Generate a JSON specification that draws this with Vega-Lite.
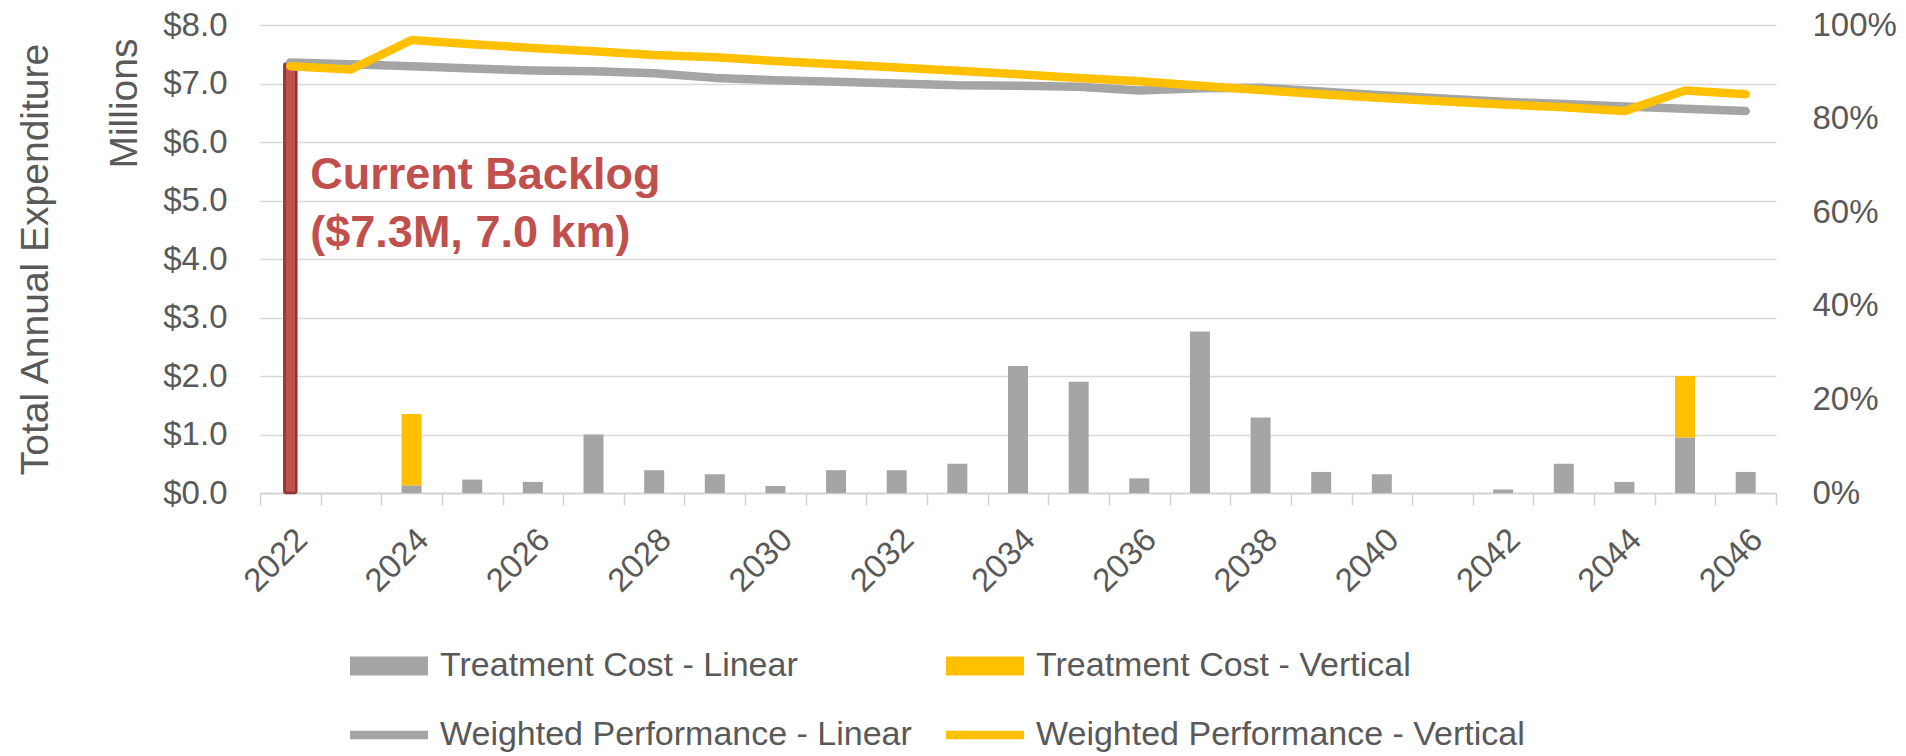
{
  "$schema": "https://vega.github.io/schema/vega-lite/v6.json",
  "width": 1516,
  "height": 468,
  "autosize": "none",
  "padding": {"left": 260, "top": 25, "right": 130, "bottom": 263},
  "background": "white",
  "config": {
    "font": "Liberation Sans",
    "view": {"stroke": null},
    "axis": {"labelColor": "#595959", "titleColor": "#595959", "titleFontWeight": "normal", "labelFont": "Liberation Sans", "titleFont": "Liberation Sans"}
  },
  "datasets": {
    "cost": [
      {"year": "2024", "series": "Treatment Cost - Linear", "cost": 0.13},
      {"year": "2024", "series": "Treatment Cost - Vertical", "cost": 1.22},
      {"year": "2025", "series": "Treatment Cost - Linear", "cost": 0.23},
      {"year": "2026", "series": "Treatment Cost - Linear", "cost": 0.19},
      {"year": "2027", "series": "Treatment Cost - Linear", "cost": 1.0},
      {"year": "2028", "series": "Treatment Cost - Linear", "cost": 0.39},
      {"year": "2029", "series": "Treatment Cost - Linear", "cost": 0.32},
      {"year": "2030", "series": "Treatment Cost - Linear", "cost": 0.12},
      {"year": "2031", "series": "Treatment Cost - Linear", "cost": 0.39},
      {"year": "2032", "series": "Treatment Cost - Linear", "cost": 0.39},
      {"year": "2033", "series": "Treatment Cost - Linear", "cost": 0.5},
      {"year": "2034", "series": "Treatment Cost - Linear", "cost": 2.17},
      {"year": "2035", "series": "Treatment Cost - Linear", "cost": 1.9},
      {"year": "2036", "series": "Treatment Cost - Linear", "cost": 0.25},
      {"year": "2037", "series": "Treatment Cost - Linear", "cost": 2.76},
      {"year": "2038", "series": "Treatment Cost - Linear", "cost": 1.29},
      {"year": "2039", "series": "Treatment Cost - Linear", "cost": 0.36},
      {"year": "2040", "series": "Treatment Cost - Linear", "cost": 0.32},
      {"year": "2042", "series": "Treatment Cost - Linear", "cost": 0.06},
      {"year": "2043", "series": "Treatment Cost - Linear", "cost": 0.5},
      {"year": "2044", "series": "Treatment Cost - Linear", "cost": 0.19},
      {"year": "2045", "series": "Treatment Cost - Linear", "cost": 0.95},
      {"year": "2045", "series": "Treatment Cost - Vertical", "cost": 1.05},
      {"year": "2046", "series": "Treatment Cost - Linear", "cost": 0.36}
    ],
    "backlog": [
      {"year": "2022", "amount": 7.34, "label": "Current Backlog\n($7.3M, 7.0 km)"}
    ],
    "perf": [
      {"year": "2022", "series": "Weighted Performance - Linear", "perf": 0.920},
      {"year": "2023", "series": "Weighted Performance - Linear", "perf": 0.916},
      {"year": "2024", "series": "Weighted Performance - Linear", "perf": 0.912},
      {"year": "2025", "series": "Weighted Performance - Linear", "perf": 0.907},
      {"year": "2026", "series": "Weighted Performance - Linear", "perf": 0.903},
      {"year": "2027", "series": "Weighted Performance - Linear", "perf": 0.901},
      {"year": "2028", "series": "Weighted Performance - Linear", "perf": 0.897},
      {"year": "2029", "series": "Weighted Performance - Linear", "perf": 0.887},
      {"year": "2030", "series": "Weighted Performance - Linear", "perf": 0.882},
      {"year": "2031", "series": "Weighted Performance - Linear", "perf": 0.879},
      {"year": "2032", "series": "Weighted Performance - Linear", "perf": 0.875},
      {"year": "2033", "series": "Weighted Performance - Linear", "perf": 0.871},
      {"year": "2034", "series": "Weighted Performance - Linear", "perf": 0.870},
      {"year": "2035", "series": "Weighted Performance - Linear", "perf": 0.868},
      {"year": "2036", "series": "Weighted Performance - Linear", "perf": 0.860},
      {"year": "2037", "series": "Weighted Performance - Linear", "perf": 0.865},
      {"year": "2038", "series": "Weighted Performance - Linear", "perf": 0.866},
      {"year": "2039", "series": "Weighted Performance - Linear", "perf": 0.858},
      {"year": "2040", "series": "Weighted Performance - Linear", "perf": 0.850},
      {"year": "2041", "series": "Weighted Performance - Linear", "perf": 0.843},
      {"year": "2042", "series": "Weighted Performance - Linear", "perf": 0.836},
      {"year": "2043", "series": "Weighted Performance - Linear", "perf": 0.831},
      {"year": "2044", "series": "Weighted Performance - Linear", "perf": 0.826},
      {"year": "2045", "series": "Weighted Performance - Linear", "perf": 0.821},
      {"year": "2046", "series": "Weighted Performance - Linear", "perf": 0.816},
      {"year": "2022", "series": "Weighted Performance - Vertical", "perf": 0.912},
      {"year": "2023", "series": "Weighted Performance - Vertical", "perf": 0.905},
      {"year": "2024", "series": "Weighted Performance - Vertical", "perf": 0.968},
      {"year": "2025", "series": "Weighted Performance - Vertical", "perf": 0.959},
      {"year": "2026", "series": "Weighted Performance - Vertical", "perf": 0.951},
      {"year": "2027", "series": "Weighted Performance - Vertical", "perf": 0.944},
      {"year": "2028", "series": "Weighted Performance - Vertical", "perf": 0.936},
      {"year": "2029", "series": "Weighted Performance - Vertical", "perf": 0.931},
      {"year": "2030", "series": "Weighted Performance - Vertical", "perf": 0.923},
      {"year": "2031", "series": "Weighted Performance - Vertical", "perf": 0.916},
      {"year": "2032", "series": "Weighted Performance - Vertical", "perf": 0.909},
      {"year": "2033", "series": "Weighted Performance - Vertical", "perf": 0.902},
      {"year": "2034", "series": "Weighted Performance - Vertical", "perf": 0.895},
      {"year": "2035", "series": "Weighted Performance - Vertical", "perf": 0.887},
      {"year": "2036", "series": "Weighted Performance - Vertical", "perf": 0.880},
      {"year": "2037", "series": "Weighted Performance - Vertical", "perf": 0.870},
      {"year": "2038", "series": "Weighted Performance - Vertical", "perf": 0.861},
      {"year": "2039", "series": "Weighted Performance - Vertical", "perf": 0.852},
      {"year": "2040", "series": "Weighted Performance - Vertical", "perf": 0.844},
      {"year": "2041", "series": "Weighted Performance - Vertical", "perf": 0.837},
      {"year": "2042", "series": "Weighted Performance - Vertical", "perf": 0.830},
      {"year": "2043", "series": "Weighted Performance - Vertical", "perf": 0.824},
      {"year": "2044", "series": "Weighted Performance - Vertical", "perf": 0.816},
      {"year": "2045", "series": "Weighted Performance - Vertical", "perf": 0.860},
      {"year": "2046", "series": "Weighted Performance - Vertical", "perf": 0.852}
    ]
  },
  "encoding": {
    "x": {
      "field": "year",
      "type": "nominal",
      "scale": {
        "domain": ["2022","2023","2024","2025","2026","2027","2028","2029","2030","2031","2032","2033","2034","2035","2036","2037","2038","2039","2040","2041","2042","2043","2044","2045","2046"],
        "paddingInner": 0,
        "paddingOuter": 0
      },
      "axis": {
        "title": null,
        "labelAngle": -45,
        "labelAlign": "right",
        "labelBaseline": "top",
        "labelFontSize": 33,
        "labelPadding": 18,
        "labelOverlap": false,
        "labelExpr": "toNumber(datum.value) % 2 === 0 ? datum.value : ''",
        "tickBand": "extent",
        "tickSize": 12,
        "tickColor": "#D0D0D0",
        "tickWidth": 1.5,
        "domainColor": "#D0D0D0",
        "domainWidth": 1.5,
        "grid": false
      }
    }
  },
  "layer": [
    {
      "data": {"name": "cost"},
      "mark": {"type": "bar", "size": 20},
      "encoding": {
        "y": {
          "field": "cost",
          "type": "quantitative",
          "stack": "zero",
          "scale": {"domain": [0, 8]},
          "axis": {
            "orient": "left",
            "title": "Total Annual Expenditure",
            "titleFontSize": 39,
            "titleX": -213,
            "titleY": 234,
            "titleAlign": "center",
            "titleBaseline": "alphabetic",
            "titleAngle": 270,
            "values": [0, 1, 2, 3, 4, 5, 6, 7, 8],
            "format": "$.1f",
            "labelFontSize": 33,
            "labelPadding": 33,
            "ticks": false,
            "tickSize": 0,
            "domain": false,
            "grid": true,
            "gridColor": "#D9D9D9",
            "gridWidth": 1.5
          }
        },
        "color": {
          "field": "series",
          "type": "nominal",
          "scale": {
            "domain": ["Treatment Cost - Linear", "Treatment Cost - Vertical", "Weighted Performance - Linear", "Weighted Performance - Vertical"],
            "range": ["#A5A5A5", "#FFC000", "#A5A5A5", "#FFC000"]
          },
          "legend": {
            "orient": "none",
            "legendX": 90,
            "legendY": 624,
            "columns": 2,
            "direction": "horizontal",
            "title": null,
            "padding": 0,
            "labelFontSize": 34,
            "labelColor": "#595959",
            "labelLimit": 0,
            "labelOffset": 56,
            "symbolSize": 1156,
            "symbolStrokeWidth": 0,
            "symbolOpacity": 1,
            "symbolType": "M-1,-0.56H3.59V0.56H-1Z",
            "rowPadding": 35,
            "columnPadding": 34,
            "encode": {
              "symbols": {
                "update": {
                  "shape": {"signal": "indexof(datum.value, 'Weighted') >= 0 ? 'M-1,-0.25H3.59V0.25H-1Z' : 'M-1,-0.56H3.59V0.56H-1Z'"},
                  "fill": {"signal": "indexof(datum.value, 'Vertical') >= 0 ? '#FFC000' : '#A5A5A5'"},
                  "stroke": {"value": "transparent"},
                  "opacity": {"value": 1}
                }
              }
            }
          }
        },
        "order": {"field": "series", "sort": "ascending"}
      }
    },
    {
      "data": {"name": "backlog"},
      "layer": [
        {
          "mark": {"type": "bar", "size": 12, "fill": "#C0504D", "stroke": "#943634", "strokeWidth": 2.5, "cornerRadius": 2},
          "encoding": {
            "y": {
              "field": "amount",
              "type": "quantitative",
              "scale": {"domain": [0, 8]},
              "axis": {
                "orient": "left",
                "title": "Millions",
                "titleFontSize": 39,
                "titleX": -124,
                "titleY": 13,
                "titleAlign": "right",
                "titleBaseline": "alphabetic",
                "titleAngle": 270,
                "labels": false,
                "ticks": false,
                "domain": false,
                "grid": false
              }
            }
          }
        },
        {
          "mark": {"type": "text", "align": "left", "baseline": "alphabetic", "dx": 20, "dy": 2, "fontSize": 45, "fontWeight": "bold", "color": "#C0504D", "lineBreak": "\n", "lineHeight": 58, "font": "Liberation Sans"},
          "encoding": {
            "y": {
              "datum": 5.236,
              "type": "quantitative",
              "axis": {
                "orient": "left",
                "title": "Millions",
                "titleFontSize": 39,
                "titleX": -124,
                "titleY": 13,
                "titleAlign": "right",
                "titleBaseline": "alphabetic",
                "titleAngle": 270,
                "labels": false,
                "ticks": false,
                "domain": false,
                "grid": false
              }
            },
            "text": {"field": "label"}
          }
        }
      ]
    },
    {
      "data": {"name": "perf"},
      "mark": {"type": "line", "strokeWidth": 8.5, "strokeCap": "round", "strokeJoin": "round"},
      "encoding": {
        "y": {
          "field": "perf",
          "type": "quantitative",
          "scale": {"domain": [0, 1]},
          "axis": {
            "orient": "right",
            "title": null,
            "values": [0, 0.2, 0.4, 0.6, 0.8, 1],
            "format": ".0%",
            "labelFontSize": 33,
            "labelPadding": 36,
            "ticks": false,
            "tickSize": 0,
            "domain": false,
            "grid": false
          }
        },
        "color": {
          "field": "series",
          "type": "nominal",
          "scale": {
            "domain": ["Treatment Cost - Linear", "Treatment Cost - Vertical", "Weighted Performance - Linear", "Weighted Performance - Vertical"],
            "range": ["#A5A5A5", "#FFC000", "#A5A5A5", "#FFC000"]
          },
          "legend": null
        }
      }
    }
  ],
  "resolve": {"scale": {"y": "independent"}}
}
